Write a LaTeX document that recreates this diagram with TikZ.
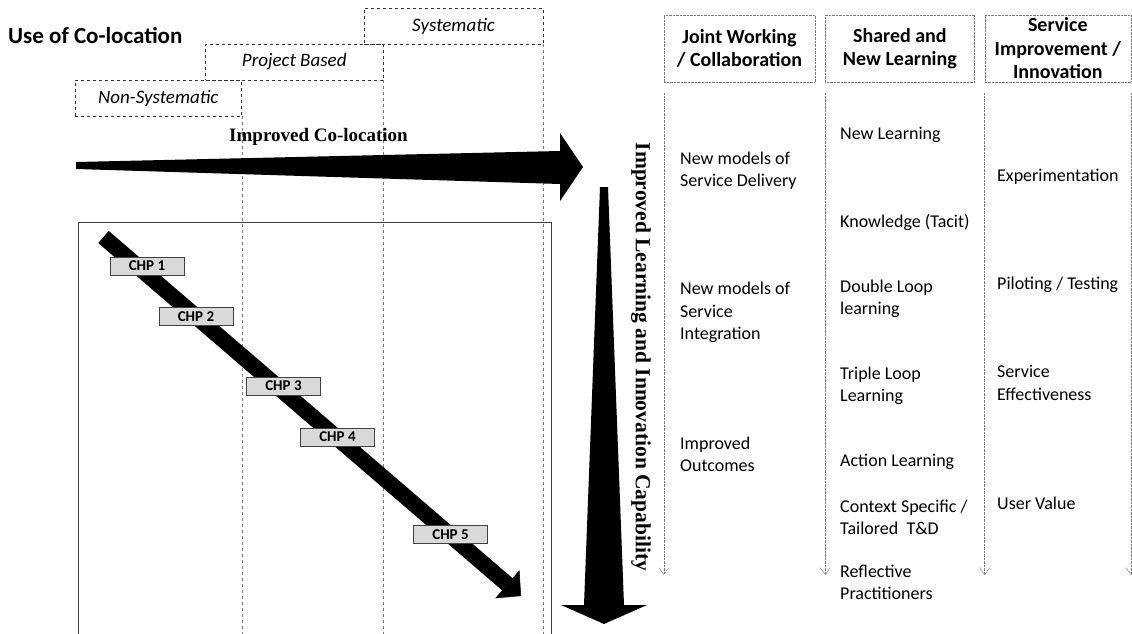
\documentclass[tikz,border=0pt]{standalone}
\usepackage{fontspec}
\setmainfont{Carlito}
\newfontfamily\seriffont{Liberation Serif}
\usetikzlibrary{arrows.meta,positioning,calc}

\definecolor{chpgray}{RGB}{217,217,217}
\definecolor{lineg}{RGB}{120,120,120}
\newcommand{\bodysize}{\fontsize{18pt}{22.3pt}\selectfont}
\newcommand{\headsize}{\fontsize{20pt}{23.5pt}\selectfont}

\begin{document}
\begin{tikzpicture}[x=1pt,y=-1pt,
  node distance=10pt and 10pt,
  usebox/.style={draw=black!80,dashed,font=\fontsize{19pt}{22pt}\selectfont\itshape,
                 minimum height=36pt,inner sep=0pt},
  hbox/.style={draw=lineg,densely dotted,align=center,font=\headsize\bfseries,
               minimum height=67pt,inner sep=0pt},
  item/.style={align=left,anchor=west,font=\bodysize,inner sep=0pt},
  chpbox/.style={draw=black!75,fill=chpgray,font=\fontsize{15pt}{16pt}\selectfont\bfseries,
                 minimum width=74pt,minimum height=18pt,inner sep=0pt},
  guide/.style={draw=lineg,dashed,thin},
  colline/.style={draw=lineg,densely dotted,-{Straight Barb[length=7pt,width=10pt]}}]

\useasboundingbox (0,0) rectangle (1132,634);
\coordinate (bottom) at (0,634);
\coordinate (coltop) at (0,93);
\coordinate (colend) at (0,575);

% left -- use of co-location
\node[font=\fontsize{23pt}{26pt}\selectfont\bfseries,anchor=west,inner sep=0pt] (title) at (8,35) {Use of Co-location};
\node[usebox,minimum width=179pt] (sys) at (453.5,26) {Systematic};
\node[usebox,minimum width=177.5pt] (proj) at (294.25,62) {Project Based};
\node[usebox,minimum width=166.5pt] (nonsys) at (158.25,98) {Non-Systematic};

\draw[guide] (nonsys.south east) -- (nonsys.south east |- bottom);
\draw[guide] (proj.south east) -- (proj.south east |- bottom);
\draw[guide] (sys.south east) -- (sys.south east |- bottom);

% improved co-location arrow
\fill (76,162) -- (560,151) -- (560,133) -- (583,167) -- (560,201) -- (560,184) -- (76,169) -- cycle;
\node[font=\seriffont\bfseries\fontsize{19pt}{22pt}\selectfont] (colab) at (318.5,137) {Improved Co-location};

% frame with the CHP path
\draw[draw=black!75,line width=1pt] (78,634) |- (551,222) -- (551,634);
\coordinate (dtail) at (103.5,237);
\coordinate (dtip) at (521,596);
\draw[line width=16pt,-{Triangle[length=18pt,width=37pt,line width=0.5pt]}] (dtail) -- (dtip);
\node[chpbox] (chp1) at (147,266) {CHP 1};
\node[chpbox] (chp2) at (196,316.5) {CHP 2};
\node[chpbox] (chp3) at (283.5,386) {CHP 3};
\node[chpbox] (chp4) at (337.5,437) {CHP 4};
\node[chpbox] (chp5) at (450.5,534.5) {CHP 5};

% learning and innovation arrow
\fill (600,187) -- (608,187) -- (624,605) -- (647,605) -- (604,624) -- (561,605) -- (584,605) -- cycle;
\node[rotate=-90,font=\seriffont\bfseries\fontsize{21.5pt}{24pt}\selectfont] (lilab) at (641,357) {Improved Learning and Innovation Capability};

% right -- column heads
\node[hbox,minimum width=151pt] (hjoint) at (739.5,48.5) {Joint Working\\/ Collaboration};
\node[hbox,minimum width=149pt,right=of hjoint] (hshared) {Shared and\\New Learning};
\node[hbox,minimum width=146pt,right=of hshared] (hserv) {Service\\Improvement /\\Innovation};

\draw[colline] (hjoint.west |- coltop) -- (hjoint.west |- colend);
\draw[colline] (hshared.west |- coltop) -- (hshared.west |- colend);
\draw[colline] (hserv.west |- coltop) -- (hserv.west |- colend);
\draw[colline] (hserv.east |- coltop) -- (hserv.east |- colend);

% column 1 -- joint working
\node[item] (delivery) at (680,171) {New models of\\Service Delivery};
\node[item] (integr) at (680,312.5) {New models of\\Service\\Integration};
\node[item] (outcomes) at (680,454.5) {Improved\\Outcomes};

% column 2 -- shared learning
\node[item] (newlrn) at (840,135) {New Learning};
\node[item] (tacit) at (840,222) {Knowledge (Tacit)};
\node[item] (dloop) at (840,298.5) {Double Loop\\learning};
\node[item] (tloop) at (840,385.5) {Triple Loop\\Learning};
\node[item] (action) at (840,462) {Action Learning};
\node[item] (context) at (840,517) {Context Specific /\\Tailored\ \ T\&D};
\node[item] (reflect) at (840,582) {Reflective\\Practitioners};

% column 3 -- service improvement
\node[item] (experim) at (997,177) {Experimentation};
\node[item] (pilot) at (997,285) {Piloting / Testing};
\node[item] (effect) at (997,383) {Service\\Effectiveness};
\node[item] (uservalue) at (997,503) {User Value};

\end{tikzpicture}
\end{document}
